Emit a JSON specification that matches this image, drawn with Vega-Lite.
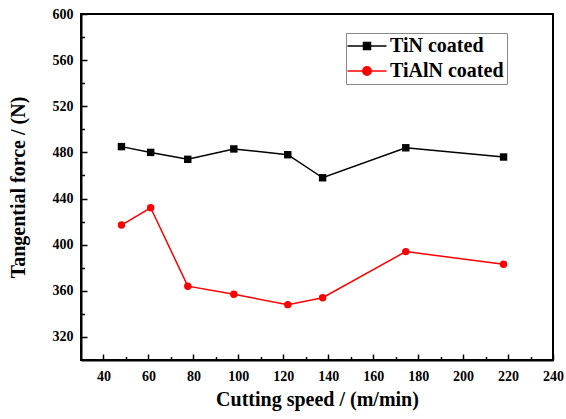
{
  "$schema": "https://vega.github.io/schema/vega-lite/v6.json",
  "autosize": "none",
  "width": 472,
  "height": 346,
  "padding": {"left": 81, "top": 14, "right": 13, "bottom": 59},
  "background": "white",
  "config": {
    "view": {"stroke": "black", "strokeWidth": 2},
    "font": "Liberation Serif, Times New Roman, serif",
    "axis": {
      "domainColor": "black",
      "domainWidth": 2,
      "tickColor": "black",
      "tickWidth": 1.5,
      "labelFont": "Liberation Serif, Times New Roman, serif",
      "labelFontWeight": "bold",
      "labelFontSize": 14,
      "labelColor": "black",
      "titleFont": "Liberation Serif, Times New Roman, serif",
      "titleFontWeight": "bold",
      "titleFontSize": 20,
      "titleColor": "black",
      "grid": false
    }
  },
  "data": {
    "values": [
      {"series": "TiN coated", "speed": 48, "force": 485},
      {"series": "TiN coated", "speed": 61, "force": 480},
      {"series": "TiN coated", "speed": 77.5, "force": 474},
      {"series": "TiN coated", "speed": 98, "force": 483},
      {"series": "TiN coated", "speed": 122, "force": 478},
      {"series": "TiN coated", "speed": 137.5, "force": 458},
      {"series": "TiN coated", "speed": 174.5, "force": 484},
      {"series": "TiN coated", "speed": 218, "force": 476},
      {"series": "TiAlN coated", "speed": 48, "force": 417},
      {"series": "TiAlN coated", "speed": 61, "force": 432},
      {"series": "TiAlN coated", "speed": 77.5, "force": 364},
      {"series": "TiAlN coated", "speed": 98, "force": 357},
      {"series": "TiAlN coated", "speed": 122, "force": 348},
      {"series": "TiAlN coated", "speed": 137.5, "force": 354},
      {"series": "TiAlN coated", "speed": 174.5, "force": 394},
      {"series": "TiAlN coated", "speed": 218, "force": 383}
    ]
  },
  "encoding": {
    "x": {
      "field": "speed", "type": "quantitative",
      "scale": {"domain": [30, 240], "nice": false, "zero": false},
      "axis": {
        "title": "Cutting speed / (m/min)",
        "values": [40, 50, 60, 70, 80, 90, 100, 110, 120, 130, 140, 150, 160, 170, 180, 190, 200, 210, 220, 230, 240],
        "labelExpr": "datum.value % 20 == 0 ? datum.label : ''",
        "tickSize": {"condition": {"test": "datum.value % 20 != 0", "value": -3.5}, "value": -6},
        "labelPadding": 15,
        "titlePadding": 6,
        "labelFlush": false
      }
    },
    "y": {
      "field": "force", "type": "quantitative",
      "scale": {"domain": [300, 600], "nice": false, "zero": false},
      "axis": {
        "title": "Tangential force / (N)",
        "values": [320, 340, 360, 380, 400, 420, 440, 460, 480, 500, 520, 540, 560, 580, 600],
        "labelExpr": "datum.value % 40 == 0 ? datum.label : ''",
        "tickSize": {"condition": {"test": "datum.value % 40 != 0", "value": -3.5}, "value": -6},
        "labelPadding": 14,
        "titlePadding": 24,
        "labelFlush": false
      }
    }
  },
  "layer": [
    {
      "mark": {"type": "line", "strokeWidth": 1.5},
      "encoding": {
        "color": {
          "field": "series", "type": "nominal",
          "scale": {"domain": ["TiN coated", "TiAlN coated"], "range": ["#000000", "#ff0000"]},
          "legend": null
        }
      }
    },
    {
      "mark": {"type": "point", "filled": true, "opacity": 1, "size": 55},
      "encoding": {
        "color": {
          "field": "series", "type": "nominal",
          "scale": {"domain": ["TiN coated", "TiAlN coated"], "range": ["#000000", "#ff0000"]},
          "legend": null
        },
        "shape": {
          "field": "series", "type": "nominal",
          "scale": {"domain": ["TiN coated", "TiAlN coated"], "range": ["square", "circle"]},
          "legend": null
        }
      }
    },
    {
      "mark": {"type": "point", "filled": true, "opacity": 0, "strokeWidth": 1.5},
      "encoding": {
        "fill": {
          "field": "series", "type": "nominal",
          "scale": {"domain": ["TiN coated", "TiAlN coated"], "range": ["#000000", "#ff0000"]},
          "legend": {"symbolOpacity": 1, "title": null}
        },
        "stroke": {
          "field": "series", "type": "nominal",
          "scale": {"domain": ["TiN coated", "TiAlN coated"], "range": ["#000000", "#ff0000"]},
          "legend": {"symbolOpacity": 1, "title": null}
        },
        "shape": {
          "field": "series", "type": "nominal",
          "scale": {"domain": ["TiN coated", "TiAlN coated"], "range": ["M-3.9,0H3.9M-0.7,-0.7H0.7V0.7H-0.7Z", "M-3.9,0H3.9M-0.84,0A0.84,0.84,0,1,0,0.84,0A0.84,0.84,0,1,0,-0.84,0Z"]},
          "legend": {
            "title": null,
            "orient": "none",
            "legendX": 265,
            "legendY": 19,
            "padding": 3,
            "strokeColor": "#888888",
            "fillColor": "white",
            "symbolSize": 100,
            "symbolOffset": 8,
            "symbolOpacity": 1,
            "symbolStrokeWidth": 1.5,
            "labelFont": "Liberation Serif, Times New Roman, serif",
            "labelFontWeight": "bold",
            "labelFontSize": 20,
            "labelColor": "black",
            "labelOffset": 13,
            "labelLimit": 300,
            "rowPadding": 5
          }
        }
      }
    }
  ],
  "resolve": {"scale": {"shape": "independent", "fill": "independent", "stroke": "independent"}}
}
